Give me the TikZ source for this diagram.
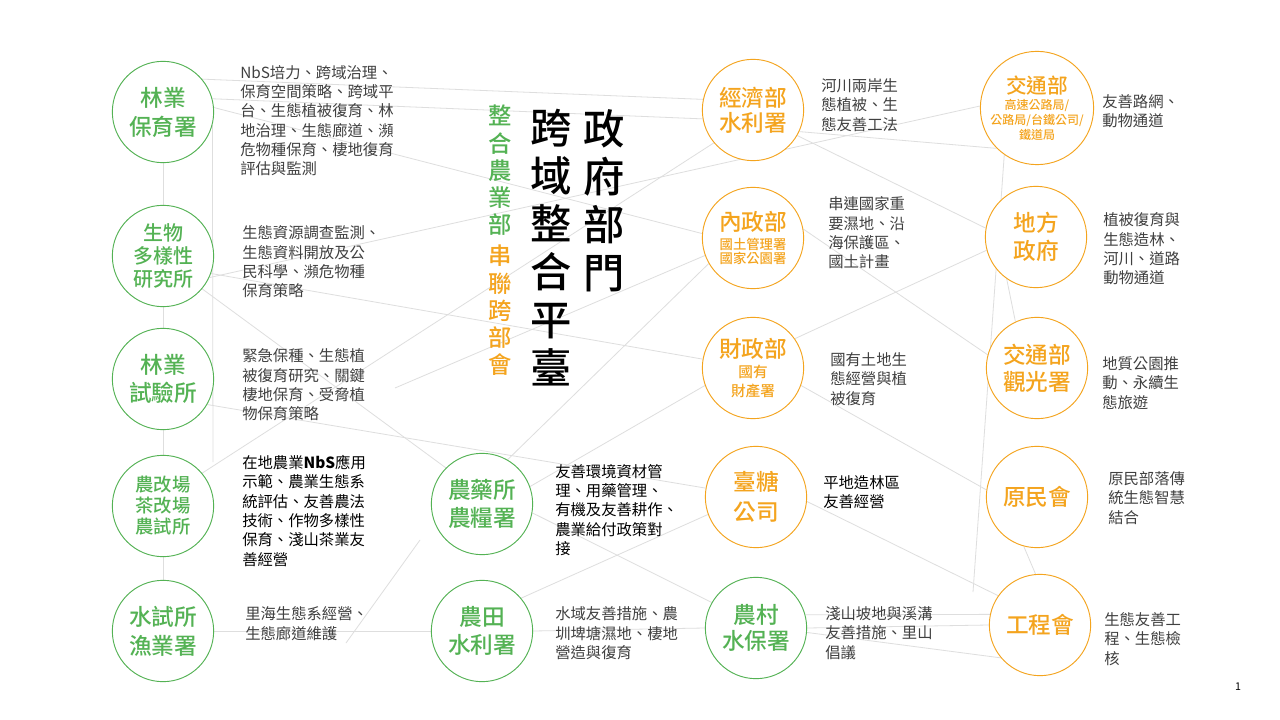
\documentclass[tikz,border=0pt]{standalone}
\usepackage{fontspec}
\setmainfont{Noto Sans CJK TC}
\newfontfamily\medfont{Noto Sans CJK TC Medium}
\usepackage{xcolor}
\usetikzlibrary{backgrounds}
\definecolor{nbsgreen}{RGB}{84,178,84}
\definecolor{nbsorange}{RGB}{244,164,30}
\definecolor{desctext}{RGB}{64,64,64}
\definecolor{netgray}{RGB}{222,222,222}
\tikzstyle{green circ} = [circle, draw=nbsgreen, line width=0.7pt, fill=white, minimum size=76pt, inner sep=0pt, text=nbsgreen, align=center, font=\medfont\fontsize{17}{21}\selectfont]
\tikzstyle{orange circ} = [circle, draw=nbsorange, line width=0.7pt, fill=white, minimum size=76pt, inner sep=0pt, text=nbsorange, align=center, font=\medfont\fontsize{17}{21}\selectfont]
\tikzstyle{desc} = [anchor=west, inner sep=0pt, align=left, text=desctext, font=\fontsize{11.5}{14.5}\selectfont]
\tikzstyle{net} = [draw=netgray, line width=0.6pt]

\begin{document}
\begin{tikzpicture}[x=0.75pt, y=-0.75pt]
\useasboundingbox (0,0) rectangle (1280,720);

% 標題
\node[font=\medfont\fontsize{31}{36}\selectfont, align=center, inner sep=0pt] (title) at (604,200.5) {政\\府\\部\\門};
\node[font=\medfont\fontsize{31}{35.9}\selectfont, align=center, inner sep=0pt] (platform) at (551,247.5) {跨\\域\\整\\合\\平\\臺};
\node[font=\medfont\fontsize{17.5}{20.4}\selectfont, align=center, inner sep=0pt] (subtitle) at (500,240.5)
    {{\color{nbsgreen}整}\\{\color{nbsgreen}合}\\{\color{nbsgreen}農}\\{\color{nbsgreen}業}\\{\color{nbsgreen}部}\\[3pt]
     {\color{nbsorange}串}\\{\color{nbsorange}聯}\\{\color{nbsorange}跨}\\{\color{nbsorange}部}\\{\color{nbsorange}會}};

% 農業部 (綠)
\node[green circ, font=\medfont\fontsize{17}{21.75}\selectfont] (lbs) at (163,112) {林業\\保育署};
\node[green circ, font=\medfont\fontsize{15}{17.25}\selectfont] (tbri) at (163,256) {生物\\多樣性\\研究所};
\node[green circ] (tfri) at (163,379) {林業\\試驗所};
\node[green circ, font=\medfont\fontsize{13.75}{15.75}\selectfont] (dais) at (163,506) {農改場\\茶改場\\農試所};
\node[green circ, font=\medfont\fontsize{17}{21.75}\selectfont] (fish) at (163,631) {水試所\\漁業署};
\node[green circ] (afa) at (482,504) {農藥所\\農糧署};
\node[green circ] (iaa) at (482,631) {農田\\水利署};
\node[green circ, font=\medfont\fontsize{17}{19}\selectfont] (arswcb) at (756,628) {農村\\水保署};

% 跨部會 (橘)
\node[orange circ, font=\medfont\fontsize{17}{19}\selectfont] (wra) at (753,110) {經濟部\\水利署};
\node[orange circ] (moi) at (753,238)
    {內政部\\[-6.7pt]{\fontsize{10}{12}\selectfont 國土管理署}\\[-10pt]{\fontsize{10}{12}\selectfont 國家公園署}};
\node[orange circ] (mof) at (753,368)
    {財政部\\[-5.5pt]{\fontsize{11}{13}\selectfont 國有}\\[-6.75pt]{\fontsize{11}{13}\selectfont 財產署}};
\node[orange circ, font=\medfont\fontsize{17}{22.5}\selectfont] (tsc) at (756,497) {臺糖\\公司};
\node[orange circ, font=\medfont\fontsize{15.5}{21}\selectfont] (motc) at (1037,108)
    {交通部\\[-8.5pt]{\fontsize{9}{11}\selectfont 高速公路局/}\\[-10pt]{\fontsize{9}{11}\selectfont 公路局/台鐵公司/}\\[-10pt]{\fontsize{9}{11}\selectfont 鐵道局}};
\node[orange circ] (local) at (1036,237) {地方\\政府};
\node[orange circ, font=\medfont\fontsize{17}{20}\selectfont] (tour) at (1037,368) {交通部\\觀光署};
\node[orange circ] (cip) at (1037,497) {原民會};
\node[orange circ] (pcc) at (1040,625) {工程會};

% 說明文字
\node[desc] (lbs-txt) at (240,120.5) {NbS培力、跨域治理、\\保育空間策略、跨域平\\台、生態植被復育、林\\地治理、生態廊道、瀕\\危物種保育、棲地復育\\評估與監測};
\node[desc] (tbri-txt) at (242,262) {生態資源調查監測、\\生態資料開放及公\\民科學、瀕危物種\\保育策略};
\node[desc] (tfri-txt) at (242,385) {緊急保種、生態植\\被復育研究、關鍵\\棲地保育、受脅植\\物保育策略};
\node[desc, text=black] (dais-txt) at (242,511) {在地農業\textbf{NbS}應用\\示範、農業生態系\\統評估、友善農法\\技術、作物多樣性\\保育、淺山茶業友\\善經營};
\node[desc] (fish-txt) at (245,623.5) {里海生態系經營、\\生態廊道維護};
\node[desc, text=black] (afa-txt) at (555,510) {友善環境資材管\\理、用藥管理、\\有機及友善耕作、\\農業給付政策對\\接};
\node[desc] (iaa-txt) at (555,633.5) {水域友善措施、農\\圳埤塘濕地、棲地\\營造與復育};
\node[desc] (wra-txt) at (821,105) {河川兩岸生\\態植被、生\\態友善工法};
\node[desc] (moi-txt) at (828,233) {串連國家重\\要濕地、沿\\海保護區、\\國土計畫};
\node[desc] (mof-txt) at (830,379) {國有土地生\\態經營與植\\被復育};
\node[desc, text=black] (tsc-txt) at (823,492.5) {平地造林區\\友善經營};
\node[desc] (arswcb-txt) at (825,633) {淺山坡地與溪溝\\友善措施、里山\\倡議};
\node[desc] (motc-txt) at (1102,111) {友善路網、\\動物通道};
\node[desc] (local-txt) at (1103,249) {植被復育與\\生態造林、\\河川、道路\\動物通道};
\node[desc] (tour-txt) at (1102,383) {地質公園推\\動、永續生\\態旅遊};
\node[desc] (cip-txt) at (1108,498) {原民部落傳\\統生態智慧\\結合};
\node[desc] (pcc-txt) at (1104,639) {生態友善工\\程、生態檢\\核};

\node[font=\fontsize{8}{10}\selectfont] (pagenum) at (1238,687) {1};

% 背景網絡線
\coordinate (rv-end) at (973,592);
\coordinate (lv-end) at (213,462);
\coordinate (fish-up) at (346,643);
\coordinate (dais-dn) at (420,540);
\coordinate (tfri-end) at (395,388);
\begin{scope}[on background layer]
\fill[white] (0,0) rectangle (1280,720);
\draw[net] (lbs.40) -- (wra.168);
\draw[net] (lbs.15) -- (wra.190);
\draw[net] (lbs.5) -- (moi.175);
\draw[net] (tbri.-25) -- (motc.178);
\draw[net] (wra.-25) -- (motc.225);
\draw[net] (wra.-30) -- (local.170);
\draw[net] (wra.220) -- (dais.40);
\draw[net] (moi.10) -- (tour.165);
\draw[net] (mof.35) -- (local.195);
\draw[net] (mof.-20) -- (cip.172);
\draw[net] (tsc.-5) -- (pcc.145);
\draw[net] (arswcb.15) -- (pcc.168);
\draw[net] (arswcb.0) -- (pcc.180);
\draw[net] (arswcb.-5) -- (pcc.220);
\draw[net] (motc.235) -- (rv-end);
\draw[net] (local.-125) -- (tour.115);
\draw[net] (cip.-105) -- (pcc.95);
\draw[net] (lbs.south) -- (tbri.north);
\draw[net] (tbri.south) -- (tfri.north);
\draw[net] (tfri.south) -- (dais.north);
\draw[net] (dais.south) -- (fish.north);
\draw[net] (lbs.-15) -- (lv-end);
\draw[net] (tbri.-20) -- (mof.170);
\draw[net] (tbri.-40) -- (afa.135);
\draw[net] (tfri-end) -- (moi.200);
\draw[net] (tfri.-30) -- (tsc.170);
\draw[net] (afa.20) -- (mof.200);
\draw[net] (afa.-10) -- (arswcb.150);
\draw[net] (fish.0) -- (iaa.180);
\draw[net] (iaa.0) -- (arswcb.180);
\draw[net] (fish-up) -- (dais-dn);
\draw[net] (iaa.40) -- (tsc.200);
\draw[net] (afa.60) -- (moi.210);
\end{scope}
\end{tikzpicture}
\end{document}
